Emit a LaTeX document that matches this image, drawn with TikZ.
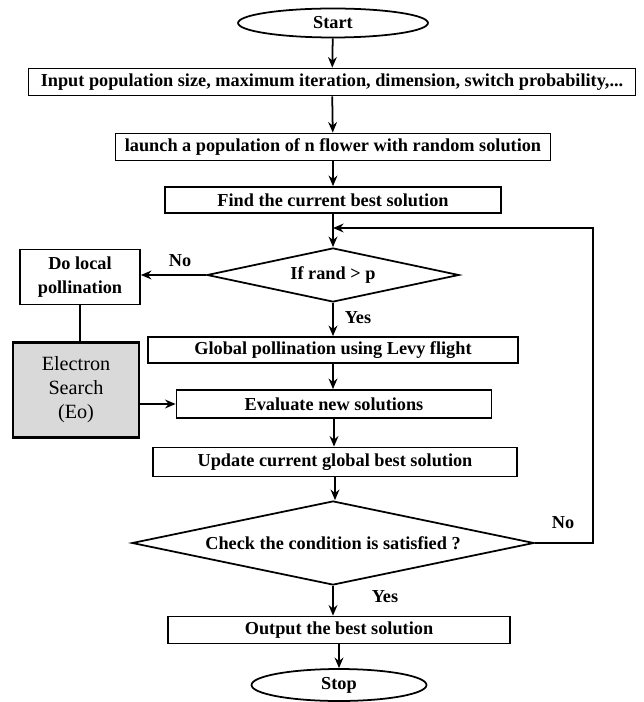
\documentclass[tikz,border=0pt]{standalone}
\usepackage{fontspec}
\setmainfont{Liberation Serif}
\usetikzlibrary{positioning}
\usetikzlibrary{shapes.geometric}
\usetikzlibrary{arrows.meta}

\tikzset{
    txt/.style={font=\rmfamily\bfseries\fontsize{10.4}{12}\selectfont},
    proc/.style={draw, line width=1pt, rectangle, inner sep=0pt, txt},
    term/.style={draw, line width=1pt, ellipse, inner sep=0pt, txt},
    dec/.style={draw, line width=1pt, diamond, aspect=4.7, inner sep=0pt, txt},
    flow/.style={line width=1pt, -{Stealth[length=6pt,width=5pt]}},
    link/.style={line width=1pt}
}

\begin{document}
\begin{tikzpicture}[x=0.02cm, y=-0.02cm]
    \useasboundingbox (0,0) rectangle (644,702);

    \node[term, minimum width=3.8cm, minimum height=0.58cm] (start) at (333,23) {Start};
    \node[proc, minimum width=12.14cm, minimum height=0.54cm] (input) at (332,82) {Input population size, maximum iteration, dimension, switch probability,...};
    \node[proc, minimum width=8.7cm, minimum height=0.54cm] (launch) at (333,147) {launch a population of n flower with random solution};
    \node[proc, minimum width=6.72cm, minimum height=0.52cm] (find) at (333,200) {Find the current best solution};
    \node[dec, minimum width=5.04cm, minimum height=1.08cm] (rand) at (333,275) {If rand > p};
    \node[proc, minimum width=2.4cm, minimum height=1.1cm, align=center, font=\rmfamily\bfseries\fontsize{10.4}{14}\selectfont] (local) at (80,277) {Do local\\pollination};
    \node[draw, line width=1.6pt, fill=black!15, minimum width=2.52cm, minimum height=1.9cm, inner sep=0pt, align=center, font=\rmfamily\fontsize{11.5}{13.6}\selectfont] (eo) at (76,390) {Electron\\Search\\(Eo)};
    \node[proc, minimum width=7.4cm, minimum height=0.52cm] (global) at (333,350) {Global pollination using Levy flight};
    \node[proc, minimum width=6.3cm, minimum height=0.56cm] (eval) at (334,404) {Evaluate new solutions};
    \node[proc, minimum width=7.28cm, minimum height=0.58cm] (update) at (335,462) {Update current global best solution};
    \node[dec, minimum width=8.04cm, minimum height=1.68cm] (check) at (333,543) {Check the condition is satisfied ?};
    \node[proc, minimum width=6.84cm, minimum height=0.54cm] (output) at (339,630) {Output the best solution};
    \node[term, minimum width=3.5cm, minimum height=0.64cm] (stop) at (339,685) {Stop};

    \coordinate (loop) at (593,228);

    \draw[flow] (start) -- (input);
    \draw[flow] (input) -- (launch);
    \draw[flow] (launch) -- (find);
    \draw[flow] (find) -- (rand);
    \draw[flow] (rand.west) -- (rand.west -| local.east);
    \draw[link] (local.south) -- (local.south |- eo.north);
    \draw[flow] (rand) -- (global);
    \draw[flow] (global.south) -- (global.south |- eval.north);
    \draw[flow] (eval.west -| eo.east) -- (eval.west);
    \draw[flow] (eval.south) -- (eval.south |- update.north);
    \draw[flow] (update.south) -- (update.south |- check.north);
    \draw[flow] (check.east) -| (loop) -- (find.south |- loop);
    \draw[flow] (check.south) -- (check.south |- output.north);
    \draw[flow] (output) -- (stop);

    \node[txt] (no1) at (180,261) {No};
    \node[txt] (yes1) at (358,318) {Yes};
    \node[txt] (no2) at (563,523) {No};
    \node[txt] (yes2) at (385,597) {Yes};
\end{tikzpicture}
\end{document}
